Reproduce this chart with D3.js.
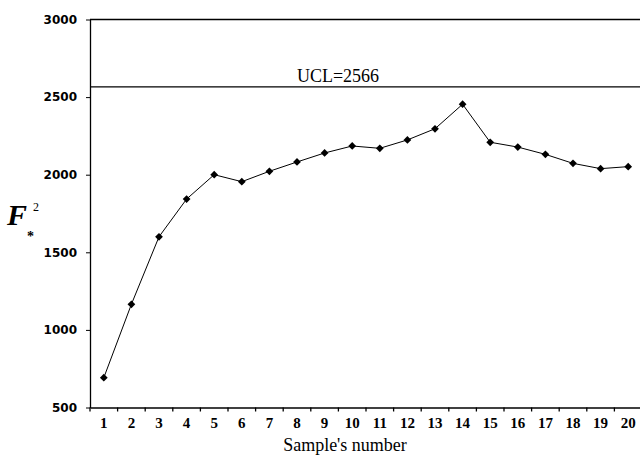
<!DOCTYPE html>
<html>
<head>
<meta charset="utf-8">
<script src="https://cdn.jsdelivr.net/npm/d3@7"></script>
<style>
  body { margin: 0; background: #fff; }
  svg { display: block; }
</style>
</head>
<body>
<svg width="640" height="457"></svg>
<script>
// values
const samples = ['1','2','3','4','5','6','7','8','9','10','11','12','13','14','15','16','17','18','19','20']
const f2Values = [692, 1165, 1600, 1843, 2000, 1955, 2022, 2082, 2140, 2185, 2170, 2224, 2296, 2454, 2209, 2178, 2131, 2073, 2039, 2052]
const yTicks = [500, 1000, 1500, 2000, 2500, 3000]
const ucl = 2566

const svg = d3.select('svg')

const xScale = d3.scaleBand()
                 .domain(samples)
                 .range([90, 642])
                 .padding(0)
const yScale = d3.scaleLinear()
                 .domain([500, 3000])
                 .range([407.5, 19.5])

// y axis
const yAxis = svg.append('g')
    .attr('transform', 'translate(90,0)')
    .call(d3.axisLeft(yScale).tickValues(yTicks).tickFormat(d3.format('d'))
          .tickSize(4).tickSizeOuter(0).tickPadding(9))
yAxis.select('.domain').attr('stroke', '#000').attr('stroke-width', 1.3)
yAxis.selectAll('text')
    .attr('font-family', 'DejaVu Sans, Verdana, sans-serif')
    .attr('font-weight', 'bold')
    .attr('font-size', 12)
    .attr('fill', '#000')

// top border at 3000
svg.append('line')
    .attr('x1', 90).attr('x2', 642)
    .attr('y1', yScale(3000)).attr('y2', yScale(3000))
    .attr('stroke', '#000').attr('stroke-width', 1.3)

// x axis: labels at band centres, ticks at band edges
const xAxis = svg.append('g')
    .attr('transform', `translate(0,${yScale(500)})`)
    .call(d3.axisBottom(xScale).tickSize(0).tickPadding(10))
xAxis.select('.domain').attr('stroke', '#000').attr('stroke-width', 1.3)
xAxis.selectAll('text')
    .attr('font-family', 'Liberation Serif, Times New Roman, serif')
    .attr('font-weight', 'bold')
    .attr('font-size', 15)
    .attr('fill', '#000')

const edges = samples.map(s => xScale(s)).concat([xScale(samples[samples.length - 1]) + xScale.bandwidth()])
svg.append('g').selectAll('line')
    .data(edges)
    .enter()
    .append('line')
    .attr('x1', d => d).attr('x2', d => d)
    .attr('y1', yScale(500)).attr('y2', yScale(500) + 4)
    .attr('stroke', '#000').attr('stroke-width', 1.3)

// UCL line
svg.append('line')
    .attr('x1', 90).attr('x2', 642)
    .attr('y1', yScale(ucl)).attr('y2', yScale(ucl))
    .attr('stroke', '#000').attr('stroke-width', 1.3)
svg.append('text')
    .attr('x', 338).attr('y', yScale(ucl) - 5)
    .attr('text-anchor', 'middle')
    .attr('font-family', 'Liberation Serif, Times New Roman, serif')
    .attr('font-size', 18)
    .text('UCL=' + ucl)

// data line
const cx = d => xScale(samples[d.i]) + xScale.bandwidth() / 2
const pts = f2Values.map((v, i) => ({ i, v }))
svg.append('path')
    .datum(pts)
    .attr('fill', 'none')
    .attr('stroke', '#000')
    .attr('stroke-width', 1)
    .attr('d', d3.line().x(cx).y(d => yScale(d.v)))

svg.append('g').selectAll('.pt')
    .data(pts)
    .enter()
    .append('path')
    .classed('pt', true)
    .attr('d', d3.symbol(d3.symbolSquare, 30))
    .attr('transform', d => `translate(${cx(d)},${yScale(d.v)}) rotate(45)`)
    .attr('fill', '#000')

// axis titles
svg.append('text')
    .attr('x', 345).attr('y', 451)
    .attr('text-anchor', 'middle')
    .attr('font-family', 'Liberation Serif, Times New Roman, serif')
    .attr('font-size', 18)
    .text("Sample's number")

svg.append('text')
    .attr('x', 7).attr('y', 225)
    .attr('font-family', 'Liberation Serif, Times New Roman, serif')
    .attr('font-weight', 'bold')
    .attr('font-style', 'italic')
    .attr('font-size', 30)
    .text('F')
svg.append('text')
    .attr('x', 27).attr('y', 241)
    .attr('font-family', 'Liberation Serif, Times New Roman, serif')
    .attr('font-weight', 'bold')
    .attr('font-size', 14)
    .text('*')
svg.append('text')
    .attr('x', 33).attr('y', 211)
    .attr('font-family', 'Liberation Serif, Times New Roman, serif')
    .attr('font-size', 12)
    .text('2')
</script>
</body>
</html>
